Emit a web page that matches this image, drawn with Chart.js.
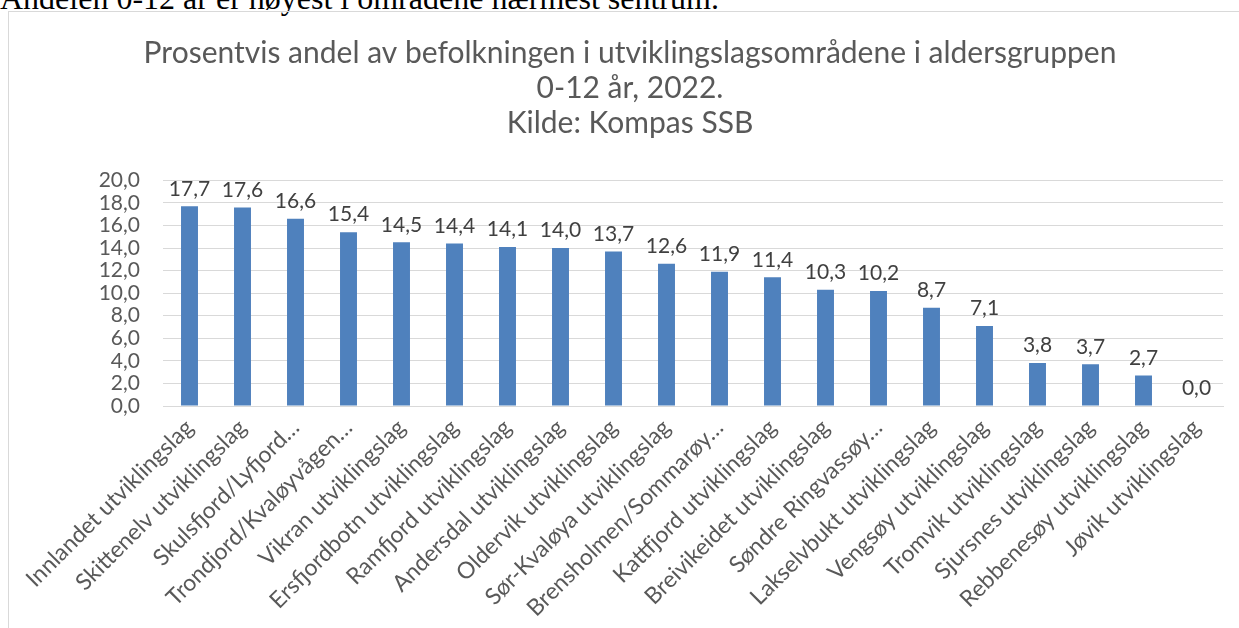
<!DOCTYPE html>
<html>
<head>
<meta charset="utf-8">
<script src="https://cdn.jsdelivr.net/npm/chart.js@4.4.0/dist/chart.umd.min.js"></script>
<style>
  html, body { margin: 0; padding: 0; background: #fff; width: 1239px; height: 628px; overflow: hidden; }
  #lead { position: absolute; left: 0; top: -20px; font-family: "Liberation Serif", "Times New Roman", serif; font-size: 32px; line-height: 37px; color: #000; white-space: nowrap; }
  #box { position: absolute; left: 8px; top: 11px; width: 1240px; height: 640px; border: 1px solid #d9d9d9; box-sizing: border-box; }
  #wrap { position: absolute; left: 0; top: 0; width: 1239px; height: 628px; }
</style>
</head>
<body>
<div id="lead">Andelen 0-12 år er høyest i områdene nærmest sentrum.</div>
<div id="box"></div>
<div id="wrap"><canvas id="c" width="1239" height="628"></canvas></div>
<script>
const titleLines = [
  "Prosentvis andel av befolkningen i utviklingslagsområdene i aldersgruppen",
  "0-12 år, 2022.",
  "Kilde: Kompas SSB"
];
const categories = [
  "Innlandet utviklingslag",
  "Skittenelv utviklingslag",
  "Skulsfjord/Lyfjord…",
  "Trondjord/Kvaløyvågen…",
  "Vikran utviklingslag",
  "Ersfjordbotn utviklingslag",
  "Ramfjord utviklingslag",
  "Andersdal utviklingslag",
  "Oldervik utviklingslag",
  "Sør-Kvaløya utviklingslag",
  "Brensholmen/Sommarøy…",
  "Kattfjord utviklingslag",
  "Breivikeidet utviklingslag",
  "Søndre Ringvassøy…",
  "Lakselvbukt utviklingslag",
  "Vengsøy utviklingslag",
  "Tromvik utviklingslag",
  "Sjursnes utviklingslag",
  "Rebbenesøy utviklingslag",
  "Jøvik utviklingslag"
];
const values = [17.7, 17.6, 16.6, 15.4, 14.5, 14.4, 14.1, 14.0, 13.7, 12.6, 11.9, 11.4, 10.3, 10.2, 8.7, 7.1, 3.8, 3.7, 2.7, 0.0];
const yMin = 0, yMax = 20, yStep = 2;

const fmt = v => v.toFixed(1).replace('.', ',');
const FONT = 'Lato, "Open Sans", sans-serif';

const dataLabels = {
  id: 'dataLabels',
  afterDatasetsDraw(chart) {
    const ctx = chart.ctx;
    const meta = chart.getDatasetMeta(0);
    ctx.save();
    ctx.font = '21px ' + FONT;
    ctx.fillStyle = '#404040';
    ctx.textAlign = 'center';
    ctx.textBaseline = 'bottom';
    meta.data.forEach((bar, i) => {
      ctx.fillText(fmt(values[i]), bar.x, bar.y - 7);
    });
    ctx.restore();
  }
};

new Chart(document.getElementById('c'), {
  type: 'bar',
  data: {
    labels: categories,
    datasets: [{
      data: values,
      backgroundColor: '#4F81BD',
      borderWidth: 0,
      categoryPercentage: 1.0,
      barPercentage: 0.32
    }]
  },
  options: {
    responsive: false,
    animation: false,
    devicePixelRatio: 1,
    layout: { padding: { left: 37, right: 16, top: 0, bottom: 0 } },
    plugins: {
      legend: { display: false },
      tooltip: { enabled: false },
      title: {
        display: true,
        text: titleLines,
        color: '#595959',
        font: { family: FONT, size: 30, weight: 'normal', lineHeight: 1.17 },
        padding: { top: 36, bottom: 39 }
      }
    },
    scales: {
      x: {
        grid: { display: false, drawTicks: false },
        border: { display: true, color: '#d9d9d9', width: 1 },
        ticks: {
          color: '#595959',
          font: { family: FONT, size: 23 },
          maxRotation: 45, minRotation: 45,
          autoSkip: false,
          padding: 8
        },
        afterFit(scale) { scale.height = 222; }
      },
      y: {
        min: yMin, max: yMax,
        grid: { color: '#d9d9d9', lineWidth: 1, drawTicks: false },
        border: { display: false },
        ticks: {
          stepSize: yStep,
          autoSkip: false,
          color: '#595959',
          font: { family: FONT, size: 21 },
          padding: 23,
          callback: v => fmt(v)
        },
        afterFit(scale) { scale.width = 126; }
      }
    }
  },
  plugins: [dataLabels]
});
</script>
</body>
</html>
